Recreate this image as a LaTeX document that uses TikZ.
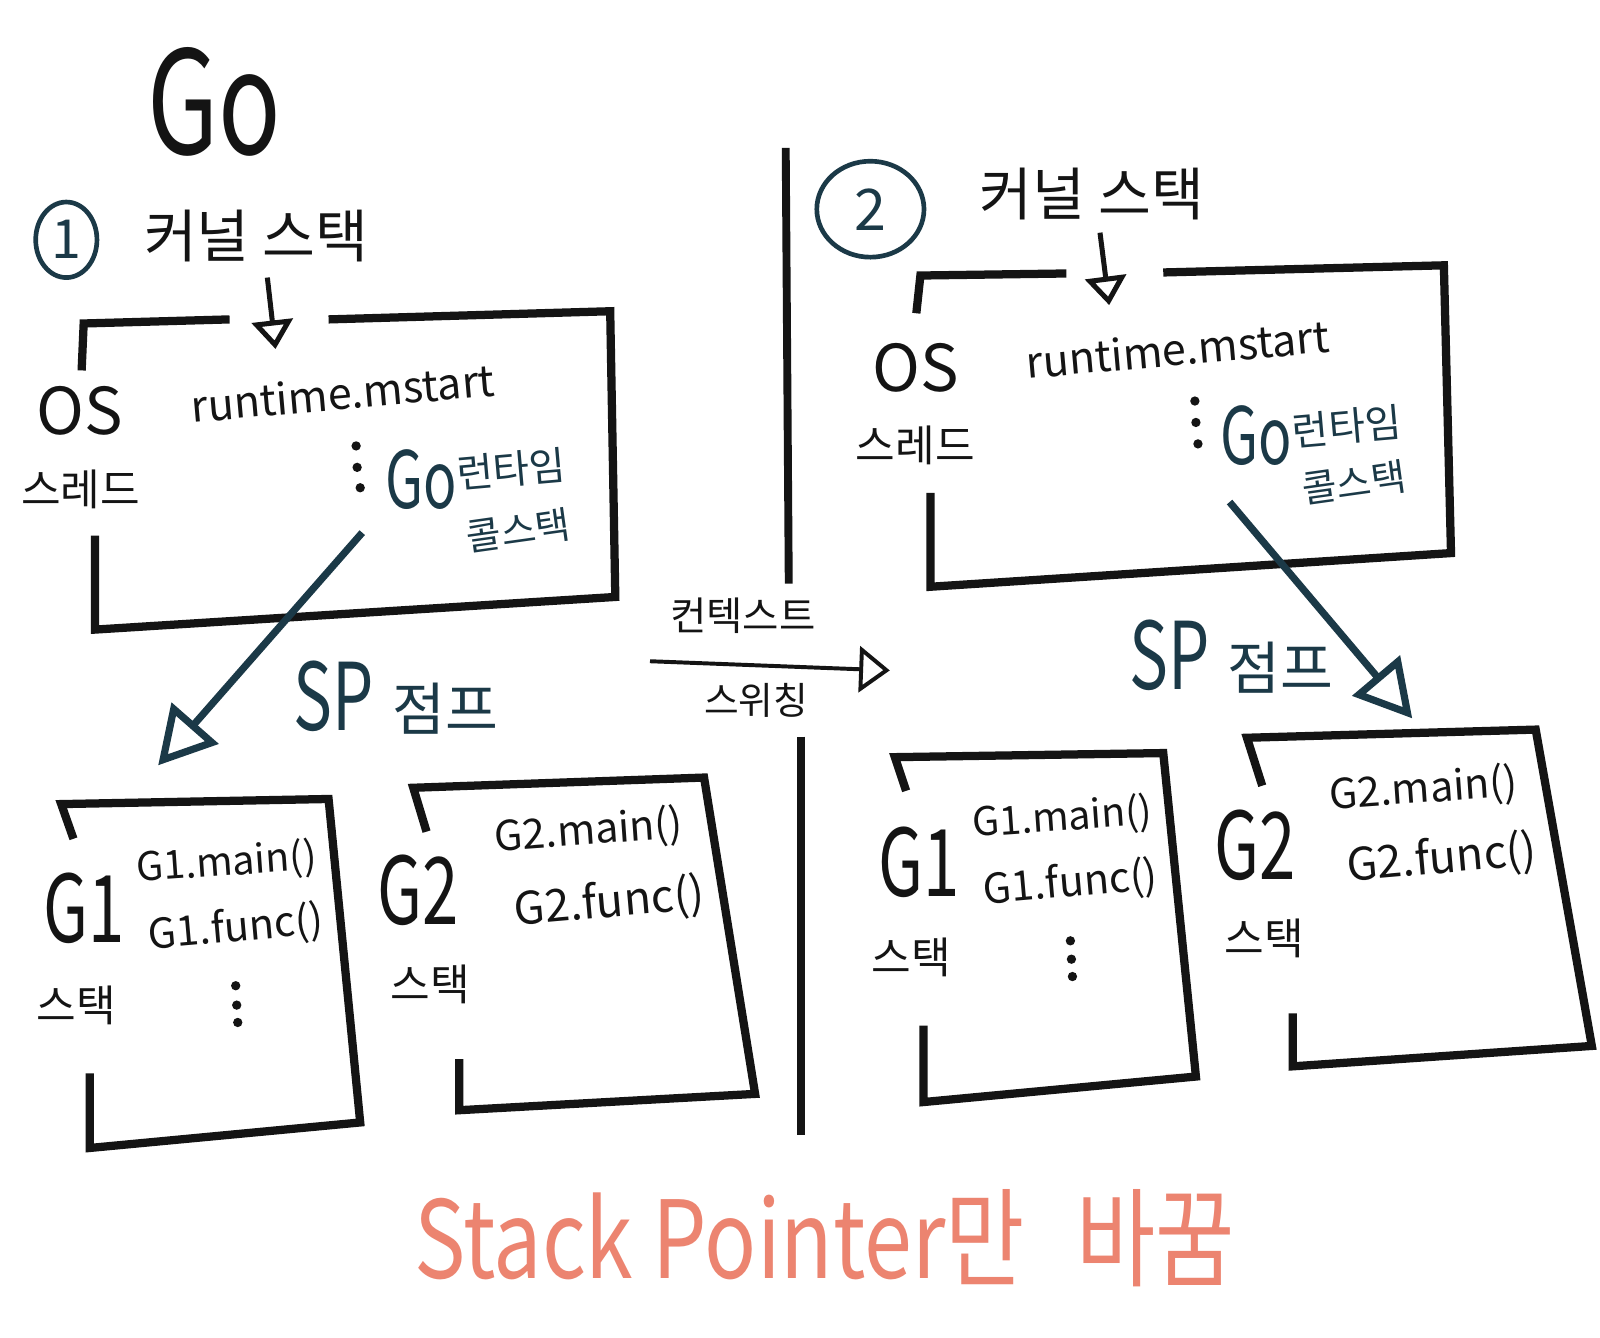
\documentclass[tikz,border=0pt]{standalone}
\usepackage{fontspec}
\usepackage{graphicx}
\newfontfamily\kr{Noto Sans CJK KR}
\newcommand\fsz[1]{\fontsize{#1pt}{#1pt}\selectfont}
\newcommand\nrw[2]{\scalebox{#1}[1]{#2}}
\usetikzlibrary{arrows.meta,shapes.geometric}
\definecolor{ink}{HTML}{141414}
\definecolor{spteal}{HTML}{1B3947}
\definecolor{salmon}{HTML}{EC8470}
\begin{document}
\begin{tikzpicture}[x=0.01cm,y=-0.01cm,
  box/.style={draw=ink, line width=2.3pt, line join=miter},
  lbl/.style={inner sep=0pt, text=ink, font=\kr},
  fz/.style={font={\kr\fsz{#1}}},
  tl/.style={text=spteal},
  divider/.style={draw=ink, line width=2.2pt},
  kern/.style={draw=ink, line width=1.4pt, -{Triangle[open,length=0.28cm,width=0.4cm]}},
  sparrow/.style={draw=spteal, line width=2pt, -{Triangle[open,length=0.55cm,width=0.6cm]}},
  ctx/.style={draw=ink, line width=1.1pt, -{Triangle[open,length=0.3cm,width=0.45cm]}},
  circ/.style={ellipse, draw=spteal, line width=1.3pt, text=spteal, inner sep=0pt}
]
\useasboundingbox[fill=white] (0,0) rectangle (1568,1311);

% ---------- title ----------
\node[lbl,fz=40] (title) at (210,100) {\nrw{0.72}{Go}};

% ---------- left: OS thread box ----------
\node[circ, minimum width=0.6cm, minimum height=0.74cm, font=\kr\fsz{15}] (c1) at (65,235) {1};
\node[lbl,fz=16] (kern1) at (251,231) {커널 스택};
\coordinate (k1s) at (262,272);
\coordinate (k1e) at (270,342);
\draw[kern] (k1s) -- (k1e);
\draw[box] (80,363) -- (82,317) -- (225,313);
\draw[box] (322,313) -- (598,305) -- (603,585) -- (93,617) -- (93,525);
\node[lbl,fz=18] (os1) at (78,403) {OS};
\node[lbl,fz=12] (th1) at (79,480) {스레드};
\node[lbl,fz=12,rotate=5] (rt1) at (336,385) {runtime.mstart};
\fill[ink] (349,437) circle (1.3pt) (350,458) circle (1.3pt) (353,478) circle (1.3pt);
\node[lbl,fz=22,tl] (go1) at (413,470) {\nrw{0.7}{Go}};
\node[lbl,fz=11,tl,rotate=5] (rtm1) at (501,460) {런타임};
\node[lbl,fz=10.5,tl,rotate=8] (cs1) at (508,520) {콜스택};
\node[lbl,tl] (sp1) at (388,684) {\fsz{26}\nrw{0.7}{SP}\hspace{5pt}\fsz{16}점프};
\coordinate (sp1s) at (355,522);
\coordinate (sp1e) at (155,750);
\draw[sparrow] (sp1s) -- (sp1e);

% ---------- left: goroutine stacks ----------
\draw[box] (72,822) -- (60,788) -- (322,783) -- (353,1100) -- (88,1125) -- (88,1052);
\node[lbl,fz=26] (g1L) at (82,890) {\nrw{0.7}{G1}};
\node[lbl,fz=12] (g1Ls) at (75,985) {스택};
\node[lbl,fz=11,rotate=4] (g1Lm) at (222,846) {G1.main()};
\node[lbl,fz=11.5,rotate=5] (g1Lf) at (231,910) {G1.func()};
\fill[ink] (231,966) circle (1.3pt) (232,985) circle (1.3pt) (233,1002) circle (1.3pt);

\draw[box] (418,815) -- (405,772) -- (690,762) -- (740,1072) -- (450,1088) -- (450,1038);
\node[lbl,fz=26] (g2L) at (410,872) {\nrw{0.7}{G2}};
\node[lbl,fz=12] (g2Ls) at (422,965) {스택};
\node[lbl,fz=11.5,rotate=4] (g2Lm) at (577,815) {G2.main()};
\node[lbl,fz=12.5,rotate=5] (g2Lf) at (597,885) {G2.func()};

% ---------- divider & context switch ----------
\draw[divider] (770,145) -- (773,572);
\draw[divider] (785,722) -- (785,1112);
\node[lbl,fz=11] (ctxa) at (728,603) {컨텍스트};
\node[lbl,fz=10.5] (ctxb) at (741,686) {스위칭};
\coordinate (cxs) at (637,648);
\coordinate (cxe) at (872,657);
\draw[ctx] (cxs) -- (cxe);

% ---------- right: OS thread box ----------
\node[circ, minimum width=1.05cm, minimum height=0.94cm, font=\kr\fsz{16}] (c2) at (853,205) {2};
\node[lbl,fz=16] (kern2) at (1070,190) {커널 스택};
\coordinate (k2s) at (1078,228);
\coordinate (k2e) at (1087,299);
\draw[kern] (k2s) -- (k2e);
\draw[box] (898,307) -- (902,270) -- (1045,268);
\draw[box] (1140,267) -- (1415,260) -- (1422,542) -- (912,575) -- (912,483);
\node[lbl,fz=18] (os2) at (897,360) {OS};
\node[lbl,fz=12] (th2) at (897,436) {스레드};
\node[lbl,fz=12,rotate=5] (rt2) at (1154,342) {runtime.mstart};
\fill[ink] (1171,393) circle (1.3pt) (1172,414) circle (1.3pt) (1174,435) circle (1.3pt);
\node[lbl,fz=22,tl] (go2) at (1231,427) {\nrw{0.7}{Go}};
\node[lbl,fz=11,tl,rotate=5] (rtm2) at (1320,418) {런타임};
\node[lbl,fz=10.5,tl,rotate=8] (cs2) at (1327,473) {콜스택};
\node[lbl,tl] (sp2) at (1207,643) {\fsz{26}\nrw{0.7}{SP}\hspace{5pt}\fsz{16}점프};
\coordinate (sp2s) at (1205,492);
\coordinate (sp2e) at (1384,704);
\draw[sparrow] (sp2s) -- (sp2e);

% ---------- right: goroutine stacks ----------
\draw[box] (888,775) -- (877,742) -- (1140,738) -- (1172,1055) -- (905,1080) -- (905,1005);
\node[lbl,fz=26] (g1R) at (901,845) {\nrw{0.7}{G1}};
\node[lbl,fz=12] (g1Rs) at (893,938) {스택};
\node[lbl,fz=11,rotate=4] (g1Rm) at (1041,802) {G1.main()};
\node[lbl,fz=11.5,rotate=5] (g1Rf) at (1049,866) {G1.func()};
\fill[ink] (1049,922) circle (1.3pt) (1050,940) circle (1.3pt) (1051,957) circle (1.3pt);

\draw[box] (1237,770) -- (1222,723) -- (1505,715) -- (1560,1025) -- (1267,1045) -- (1267,993);
\node[lbl,fz=26] (g2R) at (1230,828) {\nrw{0.7}{G2}};
\node[lbl,fz=12] (g2Rs) at (1239,920) {스택};
\node[lbl,fz=11.5,rotate=4] (g2Rm) at (1395,774) {G2.main()};
\node[lbl,fz=12.5,rotate=5] (g2Rf) at (1413,842) {G2.func()};

% ---------- caption ----------
\node[lbl, text=salmon, fz=30] (caption) at (808,1213) {\nrw{0.8}{Stack Pointer만\hspace{0.6em}바꿈}};
\end{tikzpicture}
\end{document}
